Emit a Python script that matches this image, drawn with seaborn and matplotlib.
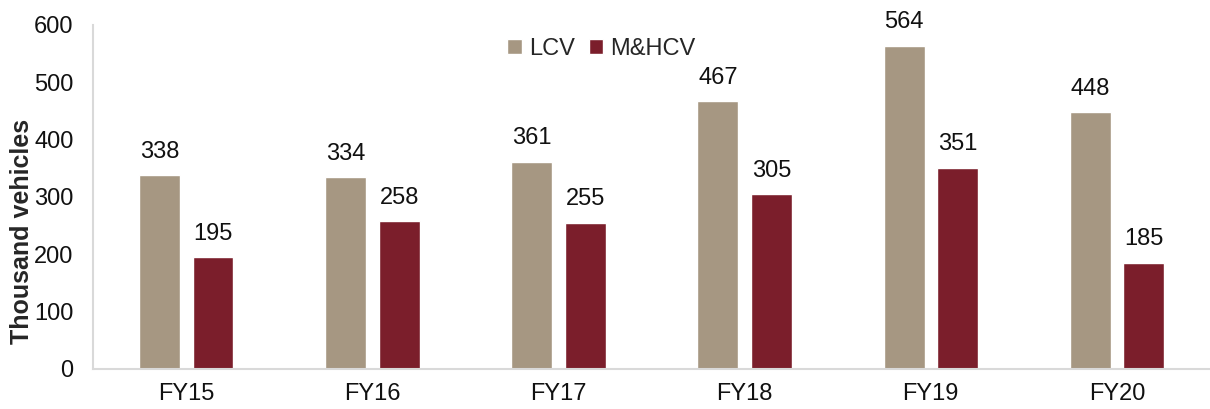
import matplotlib
matplotlib.use("Agg")
import matplotlib.pyplot as plt
import seaborn as sns
import pandas as pd

years = ["FY15", "FY16", "FY17", "FY18", "FY19", "FY20"]
lcv = [338, 334, 361, 467, 564, 448]
mhcv = [195, 258, 255, 305, 351, 185]
series = ["LCV", "M&HCV"]
colors = ["#A69782", "#7B1E2B"]

df = pd.DataFrame({
    "Year": years * 2,
    "Value": lcv + mhcv,
    "Type": [series[0]] * len(years) + [series[1]] * len(years),
})

sns.set_theme(style="white")
plt.rcParams['font.family'] = ['Liberation Sans', 'DejaVu Sans']

fig = plt.figure(figsize=(12.1, 4.09), dpi=100)
ax = fig.add_axes([0.077, 0.098, 0.923, 0.841])
sns.barplot(data=df, x="Year", y="Value", hue="Type", palette=colors,
            width=0.575, gap=0.235, ax=ax, saturation=1)

for cont in ax.containers:
    ax.bar_label(cont, fmt="%d", padding=9, fontsize=17, color="#111111")

ax.set_ylim(0, 600)
ax.set_yticks(range(0, 601, 100))
ax.set_xlim(-0.5, 5.5)
ax.set_xlabel("")
ax.set_ylabel("Thousand vehicles", fontsize=18, fontweight="bold")
ax.yaxis.set_label_coords(-0.053, 0.40)
ax.tick_params(axis="both", labelsize=17, length=0, colors="#111111")
ax.tick_params(axis="x", pad=10)
ax.tick_params(axis="y", pad=14)
for s in ["top", "right"]:
    ax.spines[s].set_visible(False)
for s in ["left", "bottom"]:
    ax.spines[s].set_color("#D9D9D9")
    ax.spines[s].set_linewidth(1.5)

ax.legend(loc="upper center", bbox_to_anchor=(0.455, 1.025), ncol=2, frameon=False,
          fontsize=17, handlelength=0.6, handleheight=0.6, handletextpad=0.3,
          columnspacing=0.6)

fig.savefig("out.png", dpi=100)
